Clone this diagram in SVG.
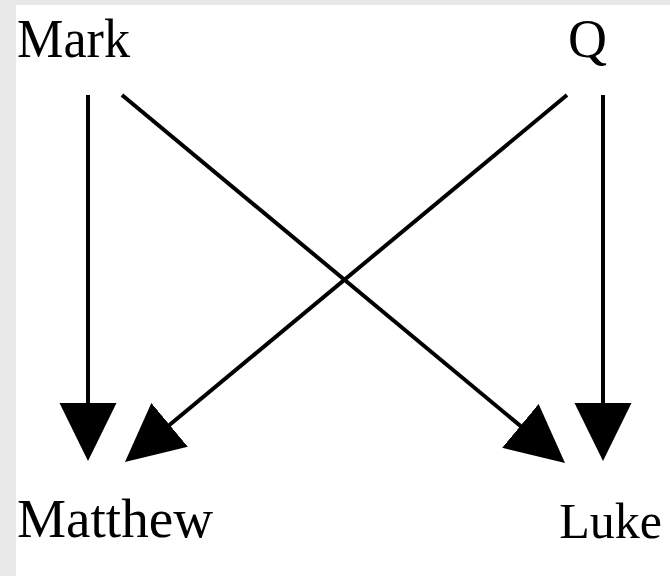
<svg xmlns="http://www.w3.org/2000/svg" width="670" height="576" viewBox="0 0 670 576">
  <style>
    .lbl { font-family: "Liberation Serif", "Times New Roman", serif; font-size: 54px; fill: #000; }
    .edge { stroke: #000; stroke-width: 4; fill: none; marker-end: url(#head); }
  </style>
  <defs>
    <marker id="head" markerUnits="userSpaceOnUse" markerWidth="58" markerHeight="58" refX="10" refY="28.5" orient="auto" viewBox="0 0 58 57">
      <path d="M0,0 L58,28.5 L0,57 Z" fill="#000"/>
    </marker>
  </defs>
  <rect x="0" y="0" width="670" height="576" fill="#e8e8e8"/>
  <rect x="16" y="5" width="654" height="571" fill="#ffffff"/>

  <g id="connectors">
    <line class="edge" x1="88" y1="95" x2="88" y2="413"/>
    <line class="edge" x1="122" y1="95" x2="528.1" y2="432.3"/>
    <line class="edge" x1="567" y1="95" x2="161.9" y2="431.3"/>
    <line class="edge" x1="603" y1="95" x2="603" y2="413"/>
  </g>

  <g id="Mark"><text class="lbl" x="17" y="57" textLength="113" lengthAdjust="spacingAndGlyphs">Mark</text></g>
  <g id="Q"><text class="lbl" x="568" y="57">Q</text></g>
  <g id="Matthew"><text class="lbl" x="17" y="537" textLength="196" lengthAdjust="spacingAndGlyphs">Matthew</text></g>
  <g id="Luke"><text class="lbl" x="662" y="538" text-anchor="end" style="font-size:50px">Luke</text></g>
</svg>
